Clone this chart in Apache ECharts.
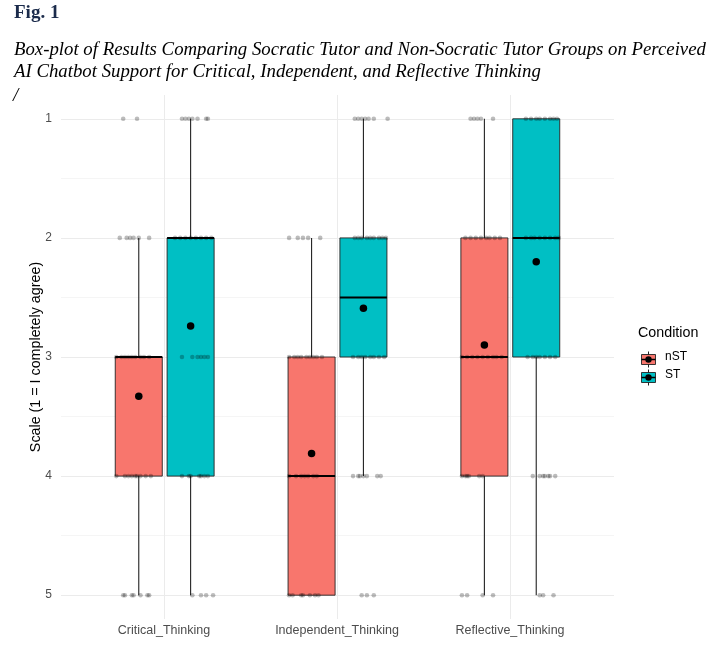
<!DOCTYPE html>
<html><head><meta charset="utf-8">
<script src="https://cdn.jsdelivr.net/npm/echarts@6/dist/echarts.min.js"></script>
<style>html,body{margin:0;padding:0;background:#fff}#c{width:716px;height:647px}</style>
</head><body><div id="c"></div>
<script>
const categories = ['Critical_Thinking', 'Independent_Thinking', 'Reflective_Thinking'];
const groups = ['nST', 'ST'];
const yTicks = [1, 2, 3, 4, 5];
// [lower whisker, Q1, median, Q3, upper whisker]
const boxNST = [[2, 3, 3, 4, 5], [2, 3, 4, 5, 5], [1, 2, 3, 4, 5]];
const boxST  = [[1, 2, 2, 4, 5], [1, 2, 2.5, 3, 4], [1, 1, 2, 3, 5]];
const meanNST = [3.33, 3.81, 2.90];
const meanST  = [2.74, 2.59, 2.20];
// jittered responses: for levels 1..5, horizontal offsets from category centre (category widths)
const jitterCriticalNST = [
  [-0.24, -0.16],
  [-0.26, -0.22, -0.20, -0.18, -0.15, -0.09],
  [-0.28, -0.25, -0.23, -0.21, -0.19, -0.17, -0.14, -0.12, -0.09],
  [-0.28, -0.23, -0.21, -0.19, -0.17, -0.16, -0.14, -0.11, -0.08],
  [-0.24, -0.23, -0.19, -0.18, -0.14, -0.10, -0.09]
];
const jitterCriticalST = [
  [0.10, 0.12, 0.14, 0.16, 0.19, 0.24, 0.25],
  [0.06, 0.09, 0.12, 0.15, 0.18, 0.21, 0.24, 0.27],
  [0.10, 0.16, 0.19, 0.21, 0.23, 0.25],
  [0.10, 0.14, 0.15, 0.20, 0.21, 0.23, 0.25],
  [0.16, 0.21, 0.24, 0.28]
];
const jitterIndependentNST = [
  [],
  [-0.28, -0.23, -0.20, -0.17, -0.10],
  [-0.28, -0.25, -0.23, -0.21, -0.18, -0.16, -0.14, -0.12, -0.09],
  [-0.28, -0.24, -0.21, -0.19, -0.17, -0.14, -0.12],
  [-0.28, -0.26, -0.21, -0.20, -0.16, -0.13, -0.11]
];
const jitterIndependentST = [
  [0.10, 0.12, 0.14, 0.16, 0.18, 0.21, 0.29],
  [0.10, 0.12, 0.14, 0.17, 0.19, 0.21, 0.24, 0.26, 0.28],
  [0.09, 0.12, 0.14, 0.16, 0.19, 0.21, 0.24, 0.27],
  [0.09, 0.12, 0.13, 0.15, 0.17, 0.23, 0.25],
  [0.14, 0.17, 0.21]
];
const jitterReflectiveNST = [
  [-0.23, -0.21, -0.19, -0.17, -0.10],
  [-0.26, -0.23, -0.20, -0.17, -0.14, -0.12, -0.09, -0.06],
  [-0.28, -0.25, -0.22, -0.19, -0.16, -0.13, -0.10, -0.08, -0.05],
  [-0.28, -0.26, -0.25, -0.24, -0.18, -0.16],
  [-0.28, -0.25, -0.16, -0.10]
];
const jitterReflectiveST = [
  [0.09, 0.12, 0.15, 0.17, 0.20, 0.23, 0.25, 0.27],
  [0.09, 0.12, 0.14, 0.17, 0.20, 0.23, 0.26, 0.28],
  [0.10, 0.13, 0.15, 0.17, 0.20, 0.23, 0.26],
  [0.13, 0.17, 0.19, 0.20, 0.22, 0.23, 0.26],
  [0.17, 0.19, 0.25]
];

const colors = { nST: '#F8766D', ST: '#00BFC4' };
const DODGE = 0.15, BOX_W = 0.272;
const SANS = 'Liberation Sans', SERIF = 'Liberation Serif';

function jitterPoints(catIdx, levels) {
  const out = [];
  levels.forEach((offs, li) => offs.forEach(o => out.push([catIdx + 1 + o, li + 1])));
  return out;
}
const jitterData = [].concat(
  jitterPoints(0, jitterCriticalNST), jitterPoints(0, jitterCriticalST),
  jitterPoints(1, jitterIndependentNST), jitterPoints(1, jitterIndependentST),
  jitterPoints(2, jitterReflectiveNST), jitterPoints(2, jitterReflectiveST)
);

function boxRender(fill) {
  return function (params, api) {
    const cx = api.value(0);
    const pLo = api.coord([cx, api.value(1)]);
    const pQ1 = api.coord([cx, api.value(2)]);
    const pMed = api.coord([cx, api.value(3)]);
    const pQ3 = api.coord([cx, api.value(4)]);
    const pHi = api.coord([cx, api.value(5)]);
    const hw = api.size([BOX_W, 0])[0] / 2;
    return {
      type: 'group', children: [
        { type: 'line', shape: { x1: pLo[0], y1: pLo[1], x2: pQ1[0], y2: pQ1[1] }, style: { stroke: '#222', lineWidth: 1.1 } },
        { type: 'line', shape: { x1: pQ3[0], y1: pQ3[1], x2: pHi[0], y2: pHi[1] }, style: { stroke: '#222', lineWidth: 1.1 } },
        { type: 'rect', shape: { x: pQ1[0] - hw, y: Math.min(pQ1[1], pQ3[1]), width: 2 * hw, height: Math.abs(pQ3[1] - pQ1[1]) },
          style: { fill: fill, stroke: '#222', lineWidth: 0.9 } },
        { type: 'line', shape: { x1: pMed[0] - hw, y1: pMed[1], x2: pMed[0] + hw, y2: pMed[1] }, style: { stroke: '#000', lineWidth: 2 } }
      ]
    };
  };
}

const GL = 61, GW = 553;
const chart = echarts.init(document.getElementById('c'));
chart.setOption({
  animation: false,
  backgroundColor: '#fff',
  grid: [
    { left: GL, top: 95, width: GW, height: 524 },
    { left: GL, top: 119, width: GW, height: 476 },
    { left: 164, top: 95, width: 346, height: 524 }
  ],
  xAxis: [
    { gridIndex: 0, type: 'value', min: 0.4, max: 3.6, show: false },
    { gridIndex: 1, type: 'value', min: 0.4, max: 3.6, show: false },
    { gridIndex: 2, type: 'category', data: categories, boundaryGap: false,
      axisLine: { show: false }, axisTick: { show: false },
      axisLabel: { color: '#4d4d4d', fontFamily: SANS, fontSize: 12.5, margin: 5, interval: 0 },
      splitLine: { show: true, lineStyle: { color: '#ebebeb', width: 1 } } }
  ],
  yAxis: [
    { gridIndex: 0, type: 'value', min: 0.8, max: 5.2, inverse: true, show: false },
    { gridIndex: 1, type: 'value', min: 1, max: 5, interval: 1, inverse: true,
      axisLine: { show: false }, axisTick: { show: false },
      axisLabel: { color: '#4d4d4d', fontFamily: SANS, fontSize: 12, margin: 9, formatter: v => yTicks.includes(v) ? String(v) : '' },
      splitLine: { show: true, lineStyle: { color: '#ebebeb', width: 1 } },
      minorTick: { show: false, splitNumber: 2 },
      minorSplitLine: { show: true, lineStyle: { color: '#f5f5f5', width: 1 } },
      name: 'Scale (1 = I completely agree)', nameLocation: 'middle', nameGap: 18, nameMoveOverlap: false,
      nameTextStyle: { color: '#000', fontFamily: SANS, fontSize: 14.3 } },
    { gridIndex: 2, type: 'value', show: false }
  ],
  series: [
    { name: 'nST', type: 'custom', xAxisIndex: 0, yAxisIndex: 0, z: 2,
      renderItem: boxRender(colors.nST), encode: { x: 0, y: [1, 2, 3, 4, 5] },
      data: boxNST.map((b, i) => [i + 1 - DODGE].concat(b)) },
    { name: 'ST', type: 'custom', xAxisIndex: 0, yAxisIndex: 0, z: 2,
      renderItem: boxRender(colors.ST), encode: { x: 0, y: [1, 2, 3, 4, 5] },
      data: boxST.map((b, i) => [i + 1 + DODGE].concat(b)) },
    { name: 'responses', type: 'scatter', xAxisIndex: 0, yAxisIndex: 0, z: 3,
      symbol: 'circle', symbolSize: 4.6, silent: true,
      itemStyle: { color: 'rgba(0,0,0,0.33)' }, data: jitterData },
    { name: 'mean', type: 'scatter', xAxisIndex: 0, yAxisIndex: 0, z: 4,
      symbol: 'circle', symbolSize: 7.5, itemStyle: { color: '#000', opacity: 1 },
      data: meanNST.map((m, i) => [i + 1 - DODGE, m]).concat(meanST.map((m, i) => [i + 1 + DODGE, m])) }
  ],
  graphic: [
    { type: 'text', left: 14, top: 4, style: { text: 'Fig. 1', fontFamily: SERIF, fontWeight: 'bold', fontSize: 19, fill: '#1b2b4b' } },
    { type: 'text', left: 14, top: 41, style: { text: 'Box-plot of Results Comparing Socratic Tutor and Non-Socratic Tutor Groups on Perceived', fontFamily: SERIF, fontStyle: 'italic', fontSize: 18.8, fill: '#000' } },
    { type: 'text', left: 14, top: 63, style: { text: 'AI Chatbot Support for Critical, Independent, and Reflective Thinking', fontFamily: SERIF, fontStyle: 'italic', fontSize: 18.8, fill: '#000' } },
    { type: 'text', left: 13, top: 86, style: { text: '/', fontFamily: SERIF, fontStyle: 'italic', fontSize: 19, fill: '#000' } },
    { type: 'text', left: 638, top: 326, style: { text: 'Condition', fontFamily: SANS, fontSize: 14.3, fill: '#000' } },
    { type: 'group', left: 639, top: 349, children: [
      { type: 'line', shape: { x1: 7, y1: 0, x2: 7, y2: 16 }, style: { stroke: '#222', lineWidth: 1 } },
      { type: 'rect', shape: { x: 0, y: 3, width: 14, height: 10 }, style: { fill: colors.nST, stroke: '#222', lineWidth: 0.9 } },
      { type: 'line', shape: { x1: 0, y1: 8, x2: 14, y2: 8 }, style: { stroke: '#000', lineWidth: 1.5 } },
      { type: 'circle', shape: { cx: 7, cy: 8, r: 3.2 }, style: { fill: '#000' } }
    ] },
    { type: 'text', left: 665, top: 351, style: { text: groups[0], fontFamily: SANS, fontSize: 12, fill: '#000' } },
    { type: 'group', left: 639, top: 367, children: [
      { type: 'line', shape: { x1: 7, y1: 0, x2: 7, y2: 16 }, style: { stroke: '#222', lineWidth: 1 } },
      { type: 'rect', shape: { x: 0, y: 3, width: 14, height: 10 }, style: { fill: colors.ST, stroke: '#222', lineWidth: 0.9 } },
      { type: 'line', shape: { x1: 0, y1: 8, x2: 14, y2: 8 }, style: { stroke: '#000', lineWidth: 1.5 } },
      { type: 'circle', shape: { cx: 7, cy: 8, r: 3.2 }, style: { fill: '#000' } }
    ] },
    { type: 'text', left: 665, top: 369, style: { text: groups[1], fontFamily: SANS, fontSize: 12, fill: '#000' } }
  ]
});
</script></body></html>
